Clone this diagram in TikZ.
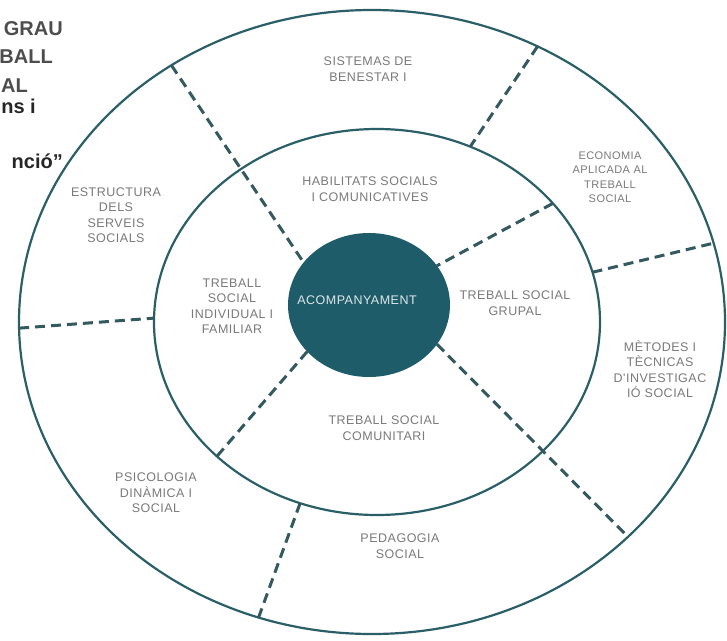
\documentclass[tikz,border=0pt]{standalone}
\usepackage{fontspec}
\setmainfont{Liberation Sans}
\newfontfamily\lblfont[LetterSpace=4]{Liberation Sans}
\usetikzlibrary{shapes.geometric}
\definecolor{ring}{HTML}{2B5F68}
\definecolor{dashc}{HTML}{34595E}
\definecolor{core}{HTML}{1F5C6A}
\definecolor{lbl}{HTML}{7A7A7A}
\definecolor{titlegray}{HTML}{4D4D4D}
\definecolor{titledark}{HTML}{262626}
\tikzset{
  ringline/.style={ellipse, draw=ring, line width=2.2pt, inner sep=0pt, outer sep=0pt},
  divider/.style={draw=dashc, line width=3pt, dash pattern=on 10pt off 6pt},
  lab/.style={align=center, text=lbl, inner sep=0pt, font=\lblfont\fontsize{12.5}{15.5}\selectfont},
  smalllab/.style={lab, font=\lblfont\fontsize{11}{14.5}\selectfont},
  ttl/.style={anchor=base east, inner sep=0pt, font=\bfseries\fontsize{20}{24}\selectfont}
}
\begin{document}
\begin{tikzpicture}[x=1pt,y=-1pt]
\useasboundingbox (0,0) rectangle (727,640);
\fill[white] (0,0) rectangle (727,640);

% rings
\node[ringline, minimum width=706pt, minimum height=624pt] (outer) at (372,322) {};
\node[ringline, minimum width=446pt, minimum height=386pt] (inner) at (377,322) {};
\node[ellipse, fill=core, inner sep=0pt, outer sep=0pt, minimum width=162pt, minimum height=144pt] (core) at (369,305) {};

% dividers
\draw[divider] (outer.128.2) -- (core.147.5);
\draw[divider] (outer.59.3) -- (inner.62.3);
\draw[divider] (inner.34.7) -- (core.30.5);
\draw[divider] (inner.13.7) -- (outer.13.8);
\draw[divider] (outer.181.8) -- (inner.179.5);
\draw[divider] (core.-30) -- (outer.-40.4);
\draw[divider] (core.-143) -- (inner.-140.5);
\draw[divider] (inner.-113.9) -- (outer.-111.8);

% labels
\node[lab] (sis) at (368,69) {SISTEMAS DE\\BENESTAR I};
\node[smalllab] (eco) at (610,177) {ECONOMIA\\APLICADA AL\\TREBALL\\SOCIAL};
\node[lab] (met) at (660,369) {MÈTODES I\\TÈCNICAS\\D'INVESTIGAC\\IÓ SOCIAL};
\node[lab] (ped) at (400,546) {PEDAGOGIA\\SOCIAL};
\node[lab] (psi) at (156,493) {PSICOLOGIA\\DINÀMICA I\\SOCIAL};
\node[lab] (est) at (116,215) {ESTRUCTURA\\DELS\\SERVEIS\\SOCIALS};
\node[lab] (hab) at (370,189) {HABILITATS SOCIALS\\I COMUNICATIVES};
\node[lab] (ind) at (232,306) {TREBALL\\SOCIAL\\INDIVIDUAL I\\FAMILIAR};
\node[lab] (gru) at (515,303) {TREBALL SOCIAL\\GRUPAL};
\node[lab] (com) at (384,428) {TREBALL SOCIAL\\COMUNITARI};
\node[lab, text=white!85!core] (aco) at (357,300) {ACOMPANYAMENT};

% clipped title fragments
\node[ttl, text=titlegray] (t1) at (63,35) {GRAU};
\node[ttl, text=titlegray] (t2) at (53,63) {BALL};
\node[ttl, text=titlegray] (t3) at (28,92) {AL};
\node[ttl, text=titledark] (t4) at (36,113) {ns i};
\node[ttl, text=titledark] (t5) at (63,168) {nció”};
\end{tikzpicture}
\end{document}
